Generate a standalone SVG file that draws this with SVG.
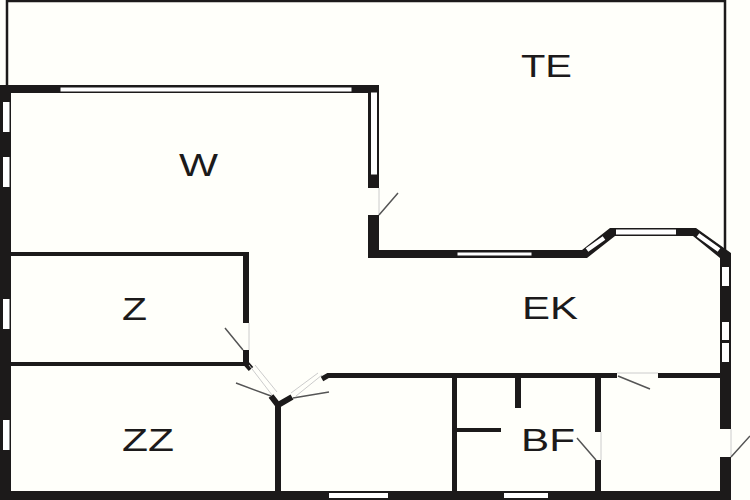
<svg xmlns="http://www.w3.org/2000/svg" width="750" height="500" viewBox="0 0 750 500">
<style>
.w{fill:#1c1a1a}
.s{fill:none;stroke:#1c1a1a;stroke-linecap:butt}
.g{fill:#fffffa}
.win{fill:#fff;stroke:#1c1a1a;stroke-width:1}
.pane{fill:#fff}
.diag{fill:none;stroke:#fff;stroke-width:4.500}
.leaf{fill:none;stroke:#555;stroke-width:1.500}
.thin{fill:none;stroke:#ccc;stroke-width:1}
text{font-family:"Liberation Sans",Arial,sans-serif;font-size:31px;fill:#1c1a1a;text-anchor:middle}
</style>
<rect width="750" height="500" fill="#fffffa"/>
<path class="s" stroke-width="2.500" d="M7 86V1H725V250"/>
<g id="walls">
<rect class="w" x="0" y="85" width="379" height="8"/>
<rect class="w" x="0" y="85" width="11" height="415"/>
<rect class="w" x="368" y="85" width="11" height="103"/>
<rect class="w" x="368" y="215" width="11" height="43"/>
<rect class="w" x="368" y="250" width="214" height="8"/>
<path class="w" d="M576 250H582L610 228H696L731 253V500H720V258L693 236H615L587 258H576Z"/>
<rect class="w" x="0" y="491" width="731" height="9"/>
<rect class="w" x="11" y="252" width="237" height="4"/>
<rect class="w" x="243" y="252" width="6" height="71"/>
<rect class="w" x="243" y="350" width="6" height="14"/>
<rect class="w" x="11" y="362" width="235" height="4"/>
<path class="s" stroke-width="6" d="M244 361L251 369"/>
<path class="s" stroke-width="6" d="M271 396L278 405L292 397M278 402V491"/>
<path class="s" stroke-width="5" d="M322 379L328 375.500H617M658 375.500H721"/>
<rect class="w" x="452" y="376" width="5" height="115"/>
<rect class="w" x="515" y="376" width="6" height="32"/>
<rect class="w" x="455" y="428" width="46" height="4"/>
<rect class="w" x="595" y="376" width="6" height="56"/>
<rect class="w" x="595" y="460" width="6" height="31"/>
</g>
<g id="openings">
<rect class="g" x="720" y="429" width="11" height="28"/>
<rect class="win" x="60" y="87" width="292" height="5"/>
<rect class="win" x="370.500" y="92" width="7" height="83"/>
<rect class="win" x="457" y="252" width="75" height="4"/>
<rect class="pane" x="616" y="229.500" width="60" height="5"/>
<path class="diag" d="M587 250L604 238M698 235L719 250"/>
<rect class="pane" x="3" y="102" width="6.500" height="30"/>
<rect class="pane" x="3" y="157" width="6.500" height="30"/>
<rect class="pane" x="3" y="299" width="6.500" height="30"/>
<rect class="pane" x="3" y="420" width="6.500" height="30"/>
<rect class="pane" x="722" y="267" width="7" height="19"/>
<rect class="pane" x="722" y="322" width="7" height="18"/>
<rect class="pane" x="722" y="343" width="7" height="19"/>
<rect class="pane" x="329" y="493" width="59" height="5"/>
<rect class="pane" x="504" y="493" width="44" height="5"/>
</g>
<g id="doors">
<path class="thin" d="M379 188V215M249 323V350M249 365L272 395M255 365L277 392M296 396L322 375M291 393L318 373M617 373H658M601 432V460M731 429V457"/>
<path class="leaf" d="M379 215L398 193M243 350L225 328M271 396L236 383M293 398L329 392M618 376L650 389M596 460L577 438M731 457L750 436"/>
</g>
<g id="labels">
<text x="546.500" y="77" textLength="51" lengthAdjust="spacingAndGlyphs">TE</text>
<text x="198.500" y="176" textLength="39" lengthAdjust="spacingAndGlyphs">W</text>
<text x="134.500" y="320" textLength="25" lengthAdjust="spacingAndGlyphs">Z</text>
<text x="148" y="451" textLength="52" lengthAdjust="spacingAndGlyphs">ZZ</text>
<text x="550" y="319" textLength="56" lengthAdjust="spacingAndGlyphs">EK</text>
<text x="548" y="451" textLength="54" lengthAdjust="spacingAndGlyphs">BF</text>
</g>
</svg>
